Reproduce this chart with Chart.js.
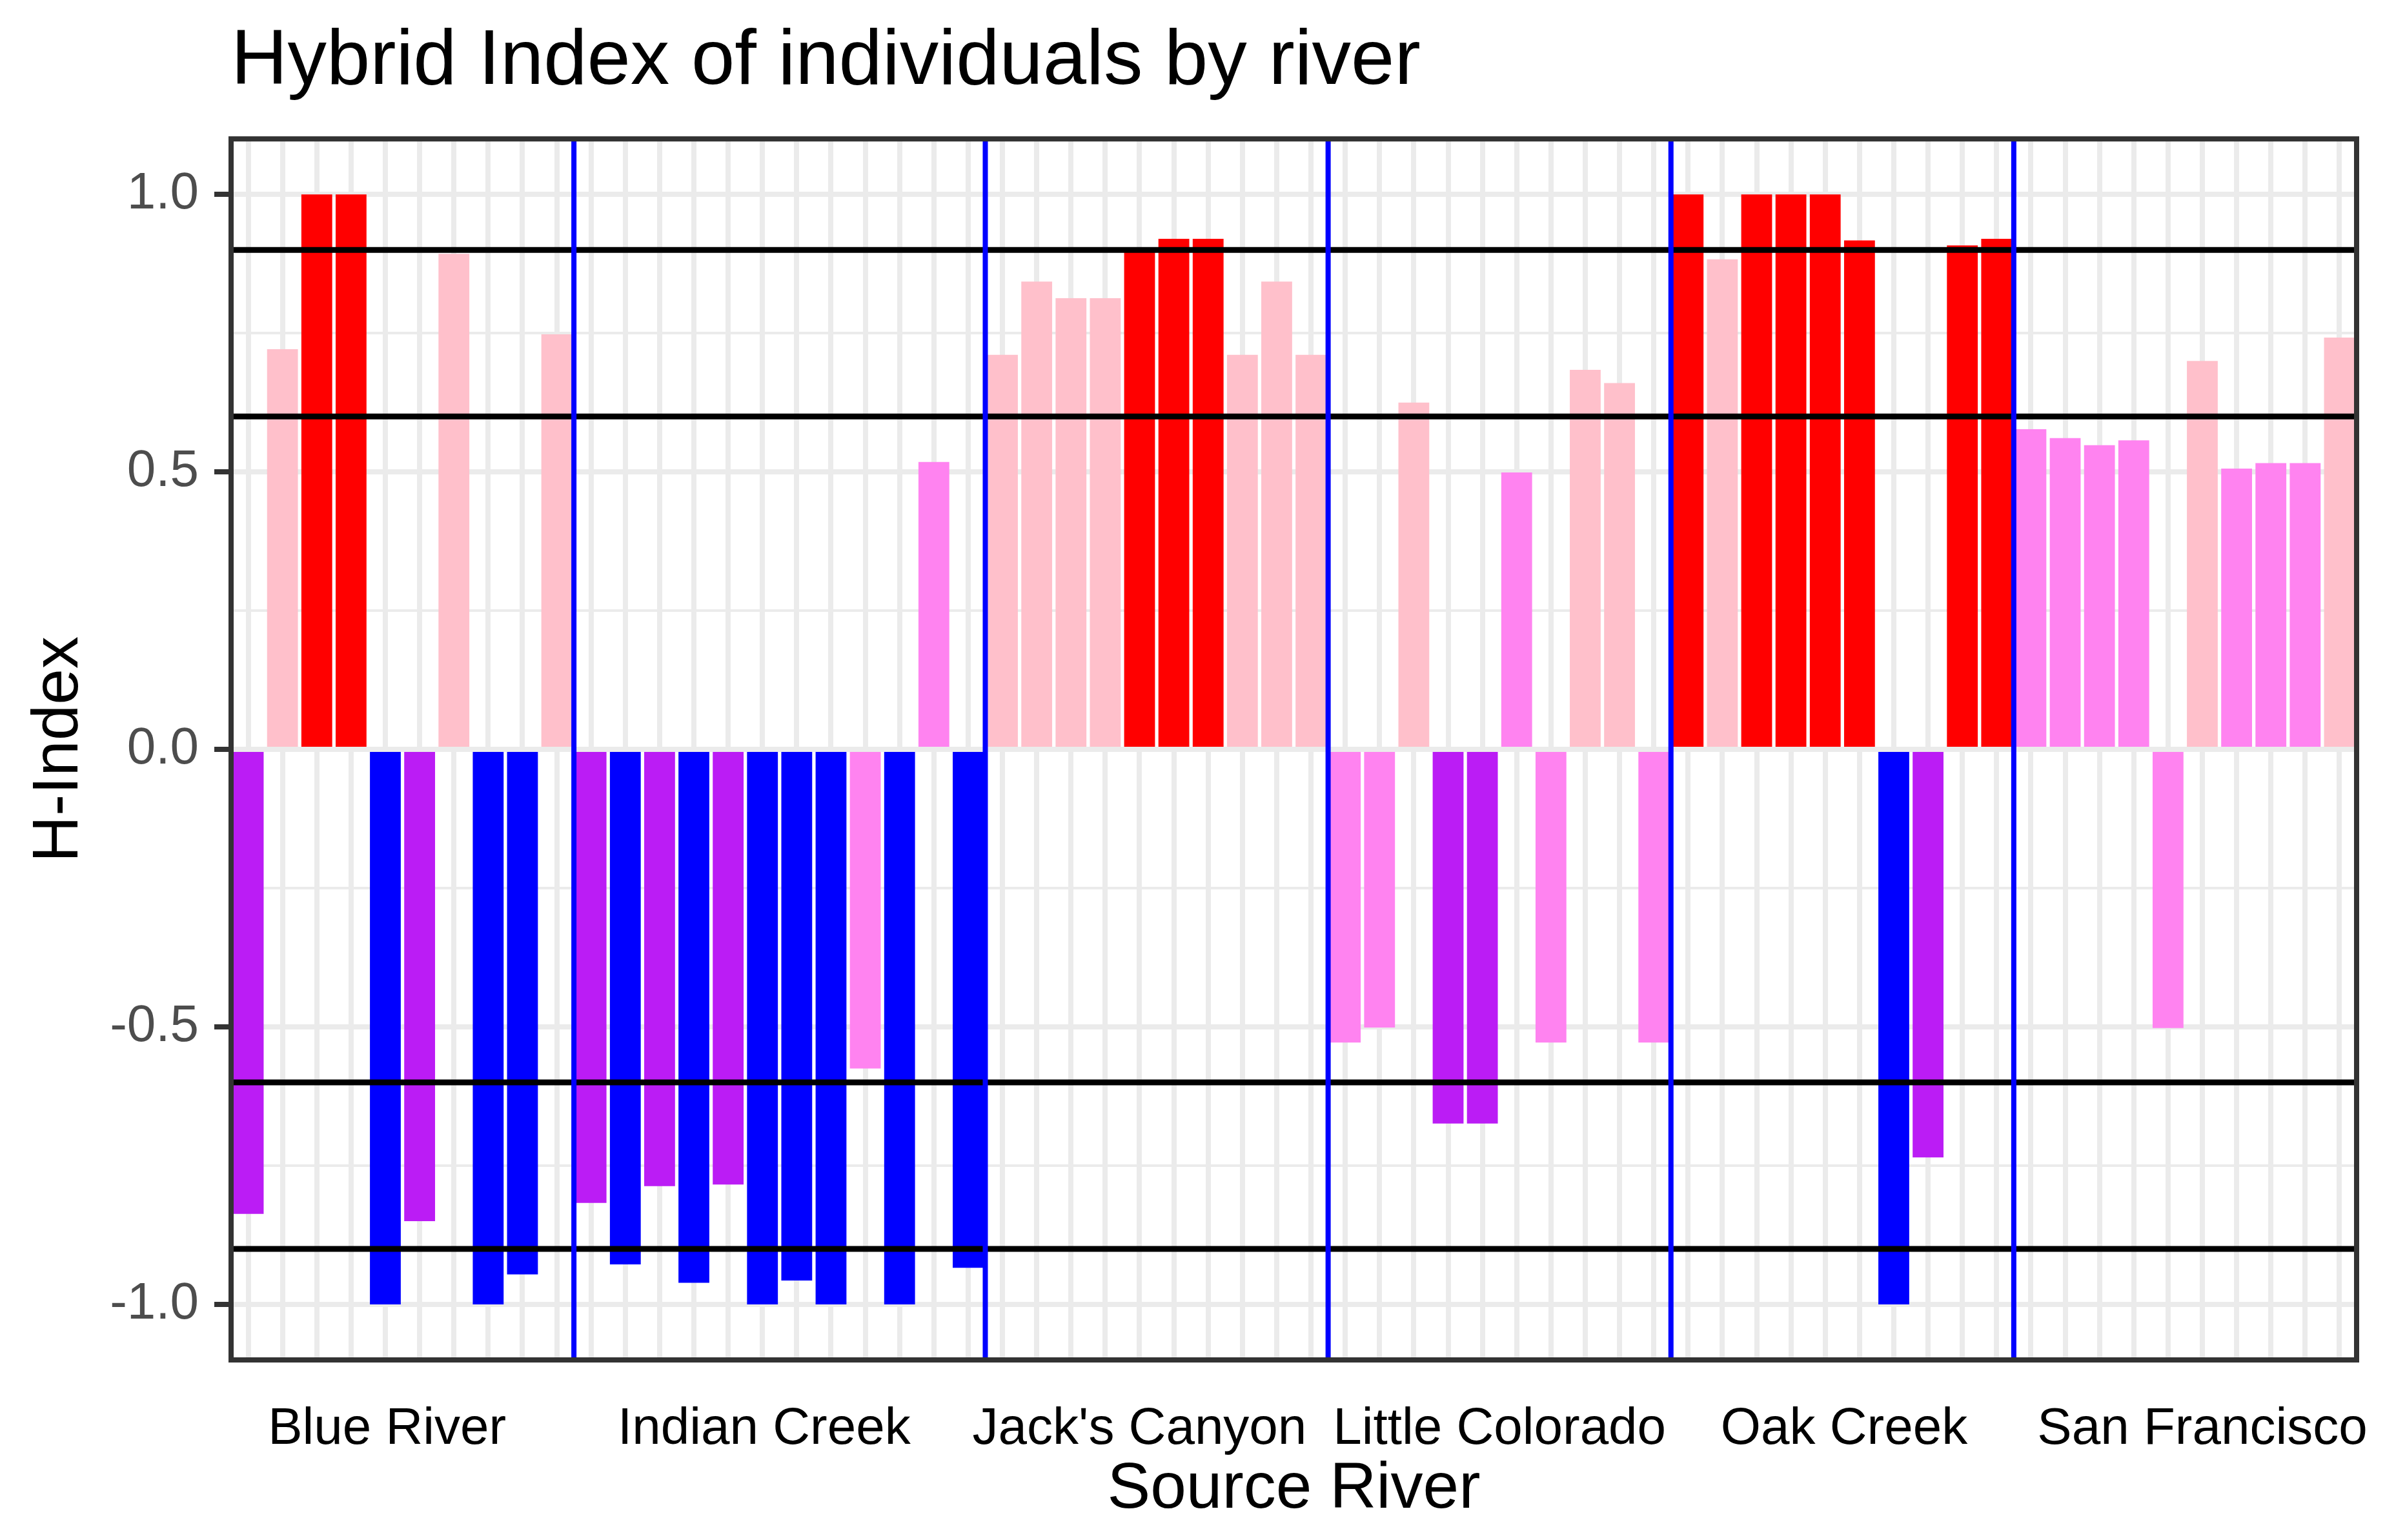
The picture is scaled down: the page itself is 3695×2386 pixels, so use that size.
<!DOCTYPE html>
<html>
<head>
<meta charset="utf-8">
<script src="https://cdn.jsdelivr.net/npm/chart.js@4.4.1/dist/chart.umd.min.js"></script>
<style>
  html, body { margin: 0; padding: 0; background: #ffffff; }
  canvas { display: block; }
</style>
</head>
<body>
<canvas id="myChart" width="3695" height="2386"></canvas>
<script>
// rivers and how many individuals were sampled in each
const rivers = ['Blue River', 'Indian Creek', "Jack's Canyon", 'Little Colorado', 'Oak Creek', 'San Francisco'];
const riverSizes = [10, 12, 10, 10, 10, 10];
// where the river names sit along the individual axis (bar index units)
const riverTickAt = [4.05, 15.05, 26.0, 36.5, 46.55, 57.0];

// hybrid index of each individual, in river order
const hIndex = [
    // Blue River
    -0.837, 0.721, 1.0, 1.0, -1.0, -0.85, 0.893, -1.0, -0.946, 0.748,
    // Indian Creek
    -0.817, -0.928, -0.787, -0.961, -0.784, -1.0, -0.957, -1.0, -0.575, -1.0, 0.518, -0.934,
    // Jack's Canyon
    0.711, 0.843, 0.813, 0.813, 0.904, 0.920, 0.920, 0.711, 0.843, 0.711,
    // Little Colorado
    -0.528, -0.501, 0.625, -0.674, -0.674, 0.499, -0.528, 0.684, 0.660, -0.528,
    // Oak Creek
    1.0, 0.883, 1.0, 1.0, 1.0, 0.917, -1.0, -0.735, 0.908, 0.920,
    // San Francisco
    0.577, 0.561, 0.548, 0.557, -0.502, 0.700, 0.506, 0.516, 0.516, 0.742
];

// class cut-offs drawn as black lines
const refLines = [0.9, 0.6, -0.6, -0.9];
const yTicks = [-1, -0.75, -0.5, -0.25, 0, 0.25, 0.5, 0.75, 1];

function colorFor(v) {
    if (v >= 0.9) return '#FF0000';
    if (v >= 0.6) return '#FFC0CB';
    if (v > -0.6) return '#FF83F0';
    if (v > -0.9) return '#BB1CF5';
    return '#0000FF';
}

const labels = hIndex.map((v, i) => String(i + 1));
const barColors = hIndex.map(colorFor);

// index positions where one river ends and the next begins
const breaks = [];
let run = 0;
riverSizes.slice(0, -1).forEach(n => { run += n; breaks.push(run - 0.5); });

const overlays = {
    id: 'overlays',
    afterDatasetsDraw(chart) {
        const ctx = chart.ctx;
        const area = chart.chartArea;
        const y = chart.scales.y;
        const x2 = chart.scales.x2;
        ctx.save();
        ctx.lineWidth = 9;
        ctx.strokeStyle = '#000000';
        refLines.forEach(v => {
            const py = y.getPixelForValue(v);
            ctx.beginPath();
            ctx.moveTo(area.left, py);
            ctx.lineTo(area.right, py);
            ctx.stroke();
        });
        ctx.lineWidth = 8;
        ctx.strokeStyle = '#0000FF';
        breaks.forEach(b => {
            const px = x2.getPixelForValue(b);
            ctx.beginPath();
            ctx.moveTo(px, area.top);
            ctx.lineTo(px, area.bottom);
            ctx.stroke();
        });
        ctx.restore();
    },
    afterDraw(chart) {
        const ctx = chart.ctx;
        const a = chart.chartArea;
        ctx.save();
        ctx.lineWidth = 8;
        ctx.strokeStyle = '#333333';
        ctx.strokeRect(a.left, a.top, a.right - a.left, a.bottom - a.top);
        ctx.restore();
    }
};

Chart.defaults.font.family = "'Liberation Sans', Arial, sans-serif";

const ctx = document.getElementById('myChart').getContext('2d');
new Chart(ctx, {
    type: 'bar',
    data: {
        labels: labels,
        datasets: [{
            data: hIndex,
            backgroundColor: barColors,
            borderWidth: 0,
            barPercentage: 0.9,
            categoryPercentage: 1.0
        }]
    },
    options: {
        responsive: false,
        animation: false,
        devicePixelRatio: 1,
        layout: { padding: { left: 0, right: 44, top: 0, bottom: 0 } },
        plugins: {
            legend: { display: false },
            tooltip: { enabled: false },
            title: {
                display: true,
                text: 'Hybrid Index of individuals by river',
                align: 'start',
                fullSize: false,
                color: '#000000',
                font: { size: 121, weight: 'normal', lineHeight: 1.2 },
                padding: { top: 24, bottom: 46 }
            }
        },
        scales: {
            x: {
                type: 'category',
                offset: true,
                grid: { offset: false, color: '#EBEBEB', lineWidth: 8, drawTicks: false },
                border: { display: false },
                ticks: { display: false }
            },
            x2: {
                type: 'linear',
                position: 'bottom',
                offset: false,
                min: -0.5,
                max: hIndex.length - 0.5,
                grid: { display: false },
                border: { display: false },
                afterBuildTicks: scale => { scale.ticks = riverTickAt.map(v => ({ value: v })); },
                afterFit: scale => {
                    scale.height = 279;
                    scale.paddingLeft = 0;
                    scale.paddingRight = 0;
                },
                ticks: {
                    autoSkip: false,
                    maxRotation: 0,
                    padding: 52,
                    color: '#000000',
                    font: { size: 80, lineHeight: 1.2 },
                    callback: (value, index) => rivers[index]
                },
                title: {
                    display: true,
                    text: 'Source River',
                    color: '#000000',
                    font: { size: 100, lineHeight: 1.2 },
                    padding: { top: 0, bottom: 18 }
                }
            },
            y: {
                min: -1.1,
                max: 1.1,
                afterBuildTicks: scale => { scale.ticks = yTicks.map(v => ({ value: v })); },
                afterFit: scale => { scale.width = 358; },
                border: { display: false },
                grid: {
                    color: '#EBEBEB',
                    lineWidth: c => (Math.abs(c.tick.value * 2 % 1) < 1e-9 ? 8 : 4),
                    tickLength: 26,
                    tickWidth: 8,
                    tickColor: c => (Math.abs(c.tick.value * 2 % 1) < 1e-9 ? '#333333' : 'rgba(0,0,0,0)')
                },
                ticks: {
                    autoSkip: false,
                    padding: 24,
                    color: '#4D4D4D',
                    font: { size: 80, lineHeight: 1.2 },
                    callback: v => (Math.abs(v * 2 % 1) < 1e-9 ? v.toFixed(1) : '')
                },
                title: {
                    display: true,
                    text: 'H-Index',
                    color: '#000000',
                    font: { size: 100, lineHeight: 1.2 },
                    padding: { top: 32, bottom: 0 }
                }
            }
        }
    },
    plugins: [overlays]
});
</script>
</body>
</html>
